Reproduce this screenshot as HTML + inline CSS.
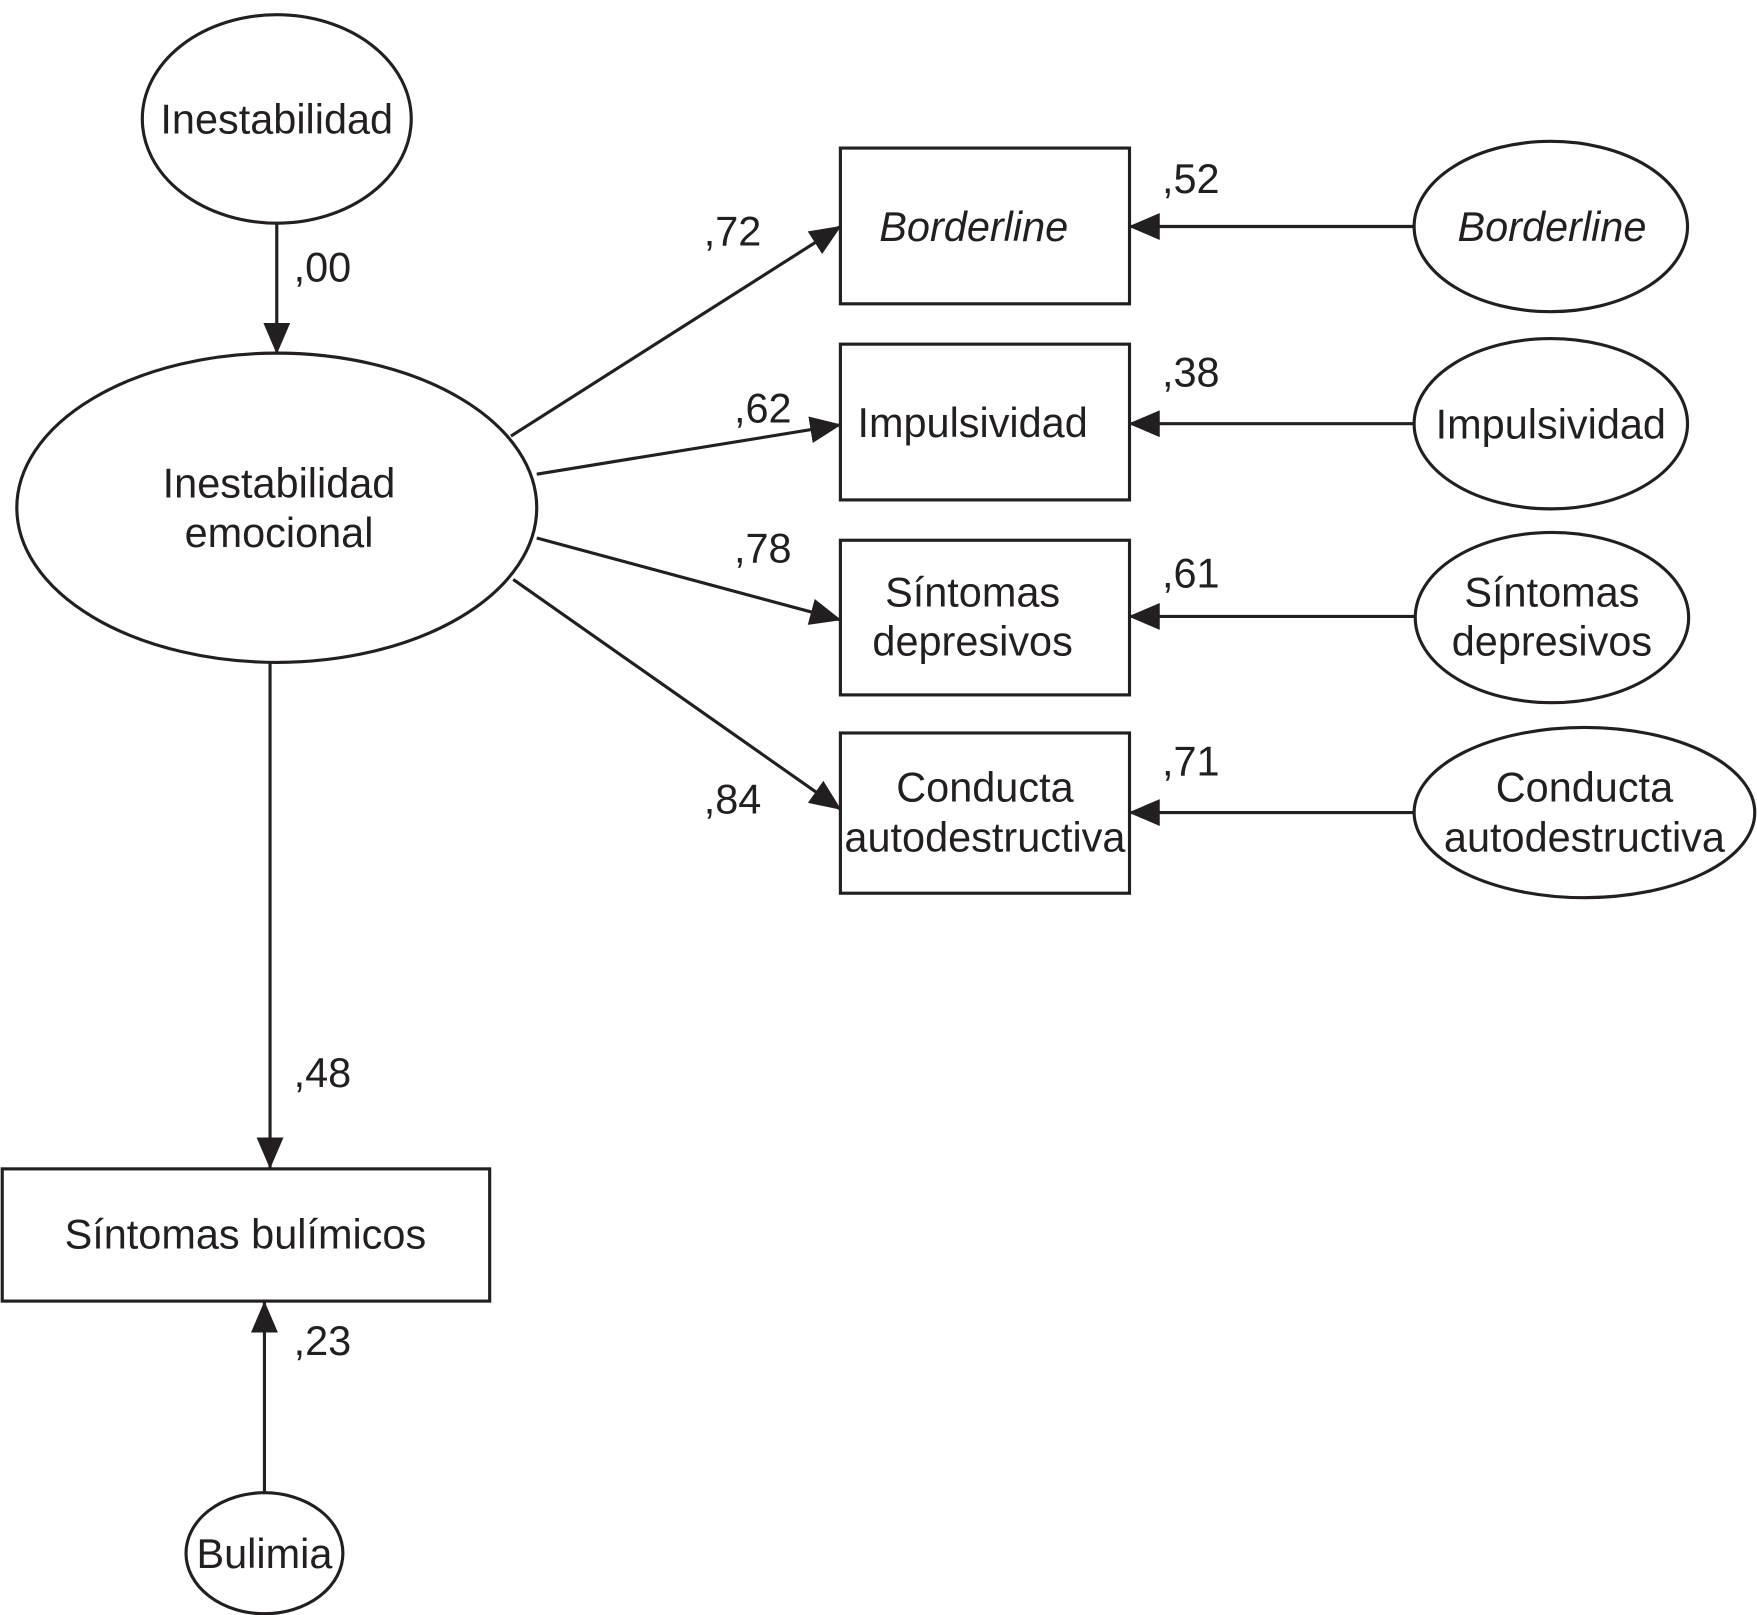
<!DOCTYPE html>
<html><head><meta charset="utf-8"><style>
html,body{margin:0;padding:0;background:#fff;}
svg{display:block;}
text{font-family:"Liberation Sans",sans-serif;font-size:37px;fill:#231f20;}
</style></head><body>
<svg width="1757" height="1615" viewBox="0 0 1568 1441" xmlns="http://www.w3.org/2000/svg">
<defs>
<marker id="a" markerWidth="28" markerHeight="24" refX="27" refY="12" orient="auto" markerUnits="userSpaceOnUse">
<path d="M0,0 L28,12 L0,24 Z" fill="#231f20"/>
</marker>
</defs>
<g fill="none" stroke="#231f20" stroke-width="2.8">
<ellipse cx="247" cy="106" rx="120" ry="93"/>
<ellipse cx="247" cy="453" rx="232" ry="138"/>
<rect x="750" y="132" width="258" height="139"/>
<rect x="750" y="307" width="258" height="139"/>
<rect x="750" y="482" width="258" height="138"/>
<rect x="750" y="654" width="258" height="143"/>
<ellipse cx="1384" cy="202" rx="122" ry="76"/>
<ellipse cx="1384" cy="378" rx="122" ry="76"/>
<ellipse cx="1385" cy="551" rx="122" ry="76"/>
<ellipse cx="1414" cy="725" rx="152" ry="76"/>
<rect x="2" y="1043" width="435" height="118"/>
<ellipse cx="236" cy="1386" rx="70" ry="54"/>
<line x1="247" y1="199" x2="247" y2="315" marker-end="url(#a)"/>
<line x1="456" y1="389" x2="750" y2="202" marker-end="url(#a)"/>
<line x1="479" y1="423" x2="750" y2="379" marker-end="url(#a)"/>
<line x1="479" y1="480" x2="750" y2="553" marker-end="url(#a)"/>
<line x1="458" y1="517" x2="750" y2="722" marker-end="url(#a)"/>
<line x1="1262" y1="202" x2="1008" y2="202" marker-end="url(#a)"/>
<line x1="1262" y1="378" x2="1008" y2="378" marker-end="url(#a)"/>
<line x1="1263" y1="550" x2="1008" y2="550" marker-end="url(#a)"/>
<line x1="1262" y1="725" x2="1008" y2="725" marker-end="url(#a)"/>
<line x1="241" y1="592" x2="241" y2="1042" marker-end="url(#a)"/>
<line x1="236" y1="1333" x2="236" y2="1162" marker-end="url(#a)"/>
</g>
<g text-anchor="middle">
<text x="247" y="119">Inestabilidad</text>
<text x="249" y="444">Inestabilidad</text>
<text x="249" y="488">emocional</text>
<text x="869" y="215" font-style="italic">Borderline</text>
<text x="868" y="390">Impulsividad</text>
<text x="868" y="541">Síntomas</text>
<text x="868" y="585">depresivos</text>
<text x="879" y="715">Conducta</text>
<text x="879" y="760">autodestructiva</text>
<text x="1385" y="215" font-style="italic">Borderline</text>
<text x="1384" y="391">Impulsividad</text>
<text x="1385" y="541">Síntomas</text>
<text x="1385" y="585">depresivos</text>
<text x="1414" y="715">Conducta</text>
<text x="1414" y="760">autodestructiva</text>
<text x="219" y="1114">Síntomas bulímicos</text>
<text x="236" y="1399">Bulimia</text>
</g>
<text x="262" y="251">,00</text>
<text x="628" y="219">,72</text>
<text x="655" y="377">,62</text>
<text x="655" y="502">,78</text>
<text x="628" y="726">,84</text>
<text x="1037" y="172">,52</text>
<text x="1037" y="345">,38</text>
<text x="1037" y="524">,61</text>
<text x="1037" y="692">,71</text>
<text x="262" y="970">,48</text>
<text x="262" y="1209">,23</text>
</svg>
</body></html>
